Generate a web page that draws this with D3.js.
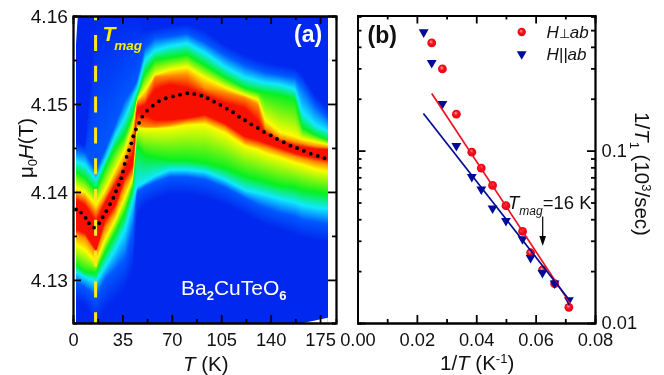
<!DOCTYPE html>
<head>
  <meta charset="utf-8">
  <script src="https://d3js.org/d3.v7.min.js"></script>
  <style>
    body { margin: 0; background: #fff; }
    canvas, svg { position: absolute; left: 0; top: 0; }
    text { font-family: "Liberation Sans", Arial, sans-serif; fill: #111; }
    .axis path, .axis line { stroke: #000; stroke-width: 1.8px; }
    .axis text { font-size: 18.3px; font-family: "Liberation Sans", Arial, sans-serif; fill: #111; }
    .axis-label { font-size: 20.5px; }
    .sub { font-size: 13px; }
  </style>
</head>
<body>
  <svg id="chart" width="664" height="375"></svg>
  <script>
    // (a) colour map: field (T) where each pure colour sits, at each temperature
    var mapT = [0, 8.5, 16.3, 22.7, 29.8, 36.8, 42.5, 45.3, 51, 58.1, 68.7, 80.8, 93.5, 107.7, 121.9, 131.1, 136, 146.7, 157.3, 162.3, 171.5, 183.5];

    var upperFaint = [4.1459, 4.1453, 4.1600, 4.1600, 4.1600, 4.1600, 4.1600, 4.1600, 4.1584, 4.1586, 4.1589, 4.1591, 4.1584, 4.1567, 4.1556, 4.1550, 4.1548, 4.1544, 4.1541, 4.1533, 4.1510, 4.1491];
    var lowerFaint = [4.1277, 4.1272, 4.1252, 4.1266, 4.1277, 4.1289, 4.1311, 4.1374, 4.1385, 4.1391, 4.1397, 4.1397, 4.1393, 4.1385, 4.1374, 4.1366, 4.1362, 4.1357, 4.1351, 4.1348, 4.1345, 4.1342];
    var upperLight = [4.1450, 4.1445, 4.1425, 4.1448, 4.1476, 4.1505, 4.1518, 4.1527, 4.1564, 4.1575, 4.1577, 4.1580, 4.1570, 4.1556, 4.1544, 4.1539, 4.1536, 4.1533, 4.1530, 4.1522, 4.1499, 4.1480];
    var lowerLight = [4.1298, 4.1292, 4.1281, 4.1300, 4.1311, 4.1323, 4.1357, 4.1400, 4.1406, 4.1411, 4.1417, 4.1417, 4.1414, 4.1405, 4.1393, 4.1385, 4.1382, 4.1376, 4.1372, 4.1368, 4.1366, 4.1362];
    var upperCyan = [4.1436, 4.1431, 4.1414, 4.1436, 4.1463, 4.1484, 4.1508, 4.1516, 4.1550, 4.1561, 4.1566, 4.1569, 4.1558, 4.1542, 4.1530, 4.1526, 4.1524, 4.1522, 4.1517, 4.1491, 4.1476, 4.1467];
    var lowerCyan = [4.1311, 4.1303, 4.1298, 4.1315, 4.1334, 4.1357, 4.1391, 4.1406, 4.1411, 4.1418, 4.1425, 4.1425, 4.1423, 4.1414, 4.1402, 4.1399, 4.1397, 4.1392, 4.1388, 4.1385, 4.1382, 4.1380];
    var upperGreen = [4.1425, 4.1416, 4.1402, 4.1427, 4.1450, 4.1465, 4.1488, 4.1508, 4.1535, 4.1550, 4.1553, 4.1556, 4.1544, 4.1530, 4.1518, 4.1514, 4.1513, 4.1510, 4.1505, 4.1473, 4.1465, 4.1457];
    var lowerGreen = [4.1319, 4.1309, 4.1308, 4.1331, 4.1353, 4.1376, 4.1406, 4.1453, 4.1442, 4.1439, 4.1436, 4.1436, 4.1433, 4.1427, 4.1418, 4.1414, 4.1412, 4.1407, 4.1405, 4.1402, 4.1400, 4.1397];
    var upperYellow = [4.1406, 4.1400, 4.1385, 4.1402, 4.1425, 4.1448, 4.1476, 4.1505, 4.1516, 4.1533, 4.1539, 4.1542, 4.1530, 4.1519, 4.1510, 4.1505, 4.1482, 4.1468, 4.1463, 4.1460, 4.1457, 4.1453];
    var lowerYellow = [4.1342, 4.1334, 4.1320, 4.1345, 4.1368, 4.1394, 4.1417, 4.1473, 4.1472, 4.1472, 4.1473, 4.1476, 4.1477, 4.1467, 4.1452, 4.1448, 4.1444, 4.1439, 4.1433, 4.1431, 4.1426, 4.1422];
    var upperOrange = [4.1399, 4.1393, 4.1377, 4.1394, 4.1416, 4.1436, 4.1463, 4.1502, 4.1507, 4.1531, 4.1532, 4.1533, 4.1518, 4.1513, 4.1507, 4.1499, 4.1473, 4.1461, 4.1457, 4.1455, 4.1452, 4.1450];
    var lowerOrange = [4.1353, 4.1348, 4.1330, 4.1359, 4.1377, 4.1408, 4.1423, 4.1476, 4.1474, 4.1474, 4.1476, 4.1480, 4.1482, 4.1473, 4.1457, 4.1453, 4.1451, 4.1445, 4.1440, 4.1438, 4.1434, 4.1431];
    var upperRed = [4.1393, 4.1385, 4.1366, 4.1388, 4.1408, 4.1427, 4.1442, 4.1495, 4.1499, 4.1516, 4.1522, 4.1518, 4.1510, 4.1501, 4.1495, 4.1480, 4.1467, 4.1458, 4.1452, 4.1451, 4.1449, 4.1448];
    var lowerRed = [4.1359, 4.1353, 4.1334, 4.1368, 4.1385, 4.1416, 4.1431, 4.1491, 4.1488, 4.1482, 4.1482, 4.1484, 4.1488, 4.1478, 4.1463, 4.1459, 4.1456, 4.1450, 4.1444, 4.1442, 4.1439, 4.1436];

    // (a) peak position, black dots
    var peakT = [2.1, 5.7, 9.0, 11.3, 14.9, 18.6, 21.0, 23.6, 26.2, 28.6, 30.5, 32.4, 34.2, 35.4, 36.6, 38.0, 39.7, 41.3, 42.7, 44.6, 46.8, 49.1, 52.4, 56.5, 60.9, 65.7, 70.9, 75.8, 81.0, 85.9, 90.9, 95.4, 99.9, 104.4, 108.9, 113.4, 117.6, 121.9, 126.3, 130.9, 135.3, 140.1, 144.5, 149.3, 154.0, 158.7, 163.5, 168.4, 173.4, 178.1];
    var peakH = [4.1380, 4.13765, 4.13705, 4.13644, 4.13594, 4.13644, 4.13712, 4.13781, 4.1386, 4.13932, 4.14008, 4.14083, 4.14156, 4.14231, 4.14318, 4.14398, 4.14474, 4.14553, 4.14633, 4.14712, 4.14784, 4.14856, 4.14924, 4.14981, 4.15031, 4.15065, 4.15087, 4.15106, 4.15122, 4.15114, 4.15094, 4.15065, 4.15026, 4.14989, 4.14947, 4.14906, 4.14856, 4.14815, 4.14769, 4.14727, 4.14682, 4.14644, 4.14602, 4.14565, 4.14526, 4.14497, 4.14466, 4.14435, 4.14409, 4.14383];

    var tMag = 16;
    var tTicks = [0, 35, 70, 105, 140, 175];
    var tMinor = [17.5, 52.5, 87.5, 122.5, 157.5];
    var hTicks = [4.13, 4.14, 4.15, 4.16];
    var hMinor = [4.135, 4.145, 4.155];

    // (b) relaxation rate
    var perpX = [0.0250, 0.0286, 0.0333, 0.0385, 0.0417, 0.0455, 0.0500, 0.0556, 0.0583, 0.0623, 0.0664, 0.0712];
    var perpY = [0.4217, 0.298, 0.1628, 0.098, 0.0792, 0.0628, 0.0479, 0.034, 0.02556, 0.0203, 0.0169, 0.01233];
    var paraX = [0.0223, 0.0250, 0.0286, 0.0333, 0.0385, 0.0417, 0.0455, 0.0500, 0.0556, 0.0583, 0.0623, 0.0664, 0.0712];
    var paraY = [0.4864, 0.3228, 0.1868, 0.1066, 0.0705, 0.0596, 0.0462, 0.0392, 0.0307, 0.0239, 0.01957, 0.017, 0.0136];
    var perpFitX = [0.025, 0.0716];
    var perpFitY = [0.2146, 0.013];
    var paraFitX = [0.0222, 0.0718];
    var paraFitY = [0.1643, 0.0133];
    var rateTicks = [0.01, 0.1];
    var rateMinor = [0.02, 0.03, 0.04, 0.05, 0.06, 0.07, 0.08, 0.09, 0.2, 0.3, 0.4, 0.5, 0.6];
    var invTTicks = [0, 0.02, 0.04, 0.06, 0.08];
    var invTMinor = [0.01, 0.03, 0.05, 0.07];

    var svg = d3.select("#chart");

    var leftBox = { x0: 73, x1: 336, y0: 16, y1: 323 },
      rightBox = { x0: 357.5, x1: 595, y0: 15.5, y1: 323 };

    var xT = d3.scaleLinear().domain([0, 186.3]).range([leftBox.x0, leftBox.x1]);
    var yH = d3.scaleLinear().domain([4.1251, 4.16]).range([leftBox.y1, leftBox.y0]);
    var xR = d3.scaleLinear().domain([0, 0.08]).range([rightBox.x0, rightBox.x1]);
    var yR = d3.scaleLog().domain([0.01, 0.608]).range([rightBox.y1, rightBox.y0]);

    var defs = svg.append("defs");
    var ball = defs.append("radialGradient").attr("id", "ball")
      .attr("cx", "50%").attr("cy", "50%").attr("r", "55%").attr("fx", "40%").attr("fy", "35%");
    ball.append("stop").attr("offset", "0%").attr("stop-color", "#ffa0a0");
    ball.append("stop").attr("offset", "45%").attr("stop-color", "#f5101c");
    ball.append("stop").attr("offset", "100%").attr("stop-color", "#e80010");

    // colour map, painted on a canvas under the svg
    var jet = d3.scaleLinear()
      .domain([0, 1, 2, 3, 4, 5, 6])
      .range(["#0028ee", "#0058ff", "#10e8ff", "#08f020", "#fcfc00", "#ff8c00", "#f81000"])
      .clamp(true);

    var contours = [lowerFaint, lowerLight, lowerCyan, lowerGreen, lowerYellow, lowerOrange, lowerRed,
      upperRed, upperOrange, upperYellow, upperGreen, upperCyan, upperLight, upperFaint]
      .map(function (a) { return d3.scaleLinear().domain(mapT).range(a); });
    var contourLevel = [0, 1, 2, 3, 4, 5, 6, 6, 5, 4, 3, 2, 1, 0];

    var canvas = d3.select("body").insert("canvas", "#chart")
      .attr("width", 664).attr("height", 375).node();
    var ctx = canvas.getContext("2d");
    var img = ctx.createImageData(664, 375);
    var px0 = Math.round(xT(2)), px1 = Math.round(xT(180.5));
    for (var px = px0; px < px1; px++) {
      var t = xT.invert(px + 0.5), prev = -Infinity;
      var stops = contours.map(function (c) { prev = Math.max(prev, c(t)); return prev; });
      var field = d3.scaleLinear().domain(stops).range(contourLevel).clamp(true);
      for (var py = leftBox.y0; py < leftBox.y1; py++) {
        var c = d3.rgb(jet(field(yH.invert(py + 0.5))));
        var k = (py * 664 + px) * 4;
        img.data[k] = c.r; img.data[k + 1] = c.g; img.data[k + 2] = c.b; img.data[k + 3] = 255;
      }
    }
    ctx.putImageData(img, 0, 0);

    // white corners the map does not cover
    var cornerLine = d3.line().x(function (d) { return xT(d[0]); }).y(function (d) { return yH(d[1]); });
    svg.append("path").attr("fill", "#fff")
      .attr("d", cornerLine([[2, 4.16], [3.4, 4.16], [2, 4.1565]]) + "Z");
    svg.append("path").attr("fill", "#fff")
      .attr("d", cornerLine([[163, 4.1251], [180.5, 4.1257], [180.5, 4.1251]]) + "Z");

    // T_mag dashed line and peak dots
    svg.append("line")
      .attr("x1", xT(tMag)).attr("x2", xT(tMag))
      .attr("y1", leftBox.y0).attr("y2", leftBox.y1)
      .attr("stroke", "#ffe818").attr("stroke-width", 3)
      .attr("stroke-dasharray", "16 14.8").attr("stroke-dashoffset", 11.8);

    svg.append("g").selectAll("circle").data(peakT).join("circle")
      .attr("cx", function (d) { return xT(d); })
      .attr("cy", function (d, i) { return yH(peakH[i]); })
      .attr("r", 1.9).attr("fill", "#000");

    // ticks point inward on all four sides, labels only where fmt is given
    function sideAxis(axisFn, scale, pos, major, minor, fmt, pad) {
      svg.append("g").attr("class", "axis").attr("transform", pos)
        .call(axisFn(scale).tickValues(minor).tickSize(-4).tickFormat(""));
      return svg.append("g").attr("class", "axis").attr("transform", pos)
        .call(axisFn(scale).tickValues(major).tickSize(-8).tickSizeOuter(0).tickPadding(pad || 3).tickFormat(fmt || ""));
    }

    sideAxis(d3.axisBottom, xT, "translate(0," + leftBox.y1 + ")", tTicks, tMinor, d3.format("d"), 10);
    sideAxis(d3.axisTop, xT, "translate(0," + leftBox.y0 + ")", tTicks, tMinor);
    sideAxis(d3.axisLeft, yH, "translate(" + leftBox.x0 + ",0)", hTicks, hMinor, d3.format(".2f"), 5)
      .selectAll("text").style("font-size", "19.2px");
    sideAxis(d3.axisRight, yH, "translate(" + leftBox.x1 + ",0)", hTicks, hMinor);

    sideAxis(d3.axisBottom, xR, "translate(0," + rightBox.y1 + ")", invTTicks, invTMinor, d3.format(".2f"), 10);
    sideAxis(d3.axisTop, xR, "translate(0," + rightBox.y0 + ")", invTTicks, invTMinor);
    sideAxis(d3.axisLeft, yR, "translate(" + rightBox.x0 + ",0)", rateTicks, rateMinor);
    sideAxis(d3.axisRight, yR, "translate(" + rightBox.x1 + ",0)", rateTicks, rateMinor, function (d) { return String(d); }, 6.5);

    // (b) points and fits
    svg.append("g").selectAll("circle").data(perpX).join("circle")
      .attr("cx", function (d) { return xR(d); })
      .attr("cy", function (d, i) { return yR(perpY[i]); })
      .attr("r", 4.4).attr("fill", "url(#ball)");

    var tri = d3.symbol().type(d3.symbolTriangle).size(42);
    svg.append("g").selectAll("path").data(paraX).join("path")
      .attr("d", tri)
      .attr("fill", "#000c96")
      .attr("transform", function (d, i) { return "translate(" + xR(d) + "," + yR(paraY[i]) + ") rotate(180)"; });

    var fitLine = d3.line().x(function (d) { return xR(d[0]); }).y(function (d) { return yR(d[1]); });
    svg.append("path").attr("fill", "none").attr("stroke", "#f01020").attr("stroke-width", 1.7)
      .attr("d", fitLine(d3.zip(perpFitX, perpFitY)));
    svg.append("path").attr("fill", "none").attr("stroke", "#000c96").attr("stroke-width", 1.7)
      .attr("d", fitLine(d3.zip(paraFitX, paraFitY)));

    // legend
    svg.append("circle").attr("cx", 521.7).attr("cy", 32).attr("r", 4.2).attr("fill", "url(#ball)");
    svg.append("path").attr("d", tri).attr("fill", "#000c96").attr("transform", "translate(521.7,54) rotate(180)");
    var lg1 = svg.append("text").attr("x", 546.5).attr("y", 38).style("font-size", "17px").style("font-style", "italic");
    lg1.append("tspan").text("H");
    lg1.append("tspan").style("font-size", "12.5px").style("font-style", "normal").text("⊥");
    lg1.append("tspan").text("ab");
    svg.append("text").attr("x", 546.5).attr("y", 60).style("font-size", "17px").style("font-style", "italic").text("H||ab");

    // T_mag arrow
    var am = svg.append("text").attr("x", 508).attr("y", 208.5).style("font-size", "18.5px");
    am.append("tspan").style("font-style", "italic").text("T");
    am.append("tspan").attr("dy", 6.5).style("font-style", "italic").style("font-size", "12px").text("mag");
    am.append("tspan").attr("dy", -6.5).text("=16 K");
    svg.append("line").attr("x1", 542.7).attr("x2", 542.7).attr("y1", 216.5).attr("y2", 240)
      .attr("stroke", "#000").attr("stroke-width", 1.2);
    svg.append("path").attr("d", d3.line()([[539.4, 236], [546, 236], [542.7, 246]]) + "Z").attr("fill", "#000");

    // panel marks
    svg.append("text").attr("x", 294).attr("y", 42).style("font-size", "23px").style("font-weight", "bold").style("fill", "#fff").text("(a)");
    svg.append("text").attr("x", 367.5).attr("y", 43).style("font-size", "23px").style("font-weight", "bold").text("(b)");

    var tm = svg.append("text").attr("x", 102.5).attr("y", 41).style("font-weight", "bold").style("font-style", "italic");
    tm.append("tspan").style("font-size", "21px").style("fill", "#ffee00").text("T");
    tm.append("tspan").attr("dy", 9).attr("dx", -1).style("font-size", "13.5px").style("fill", "#ffee00").text("mag");

    var ba = svg.append("text").attr("x", 181).attr("y", 295).style("font-size", "21px");
    ba.append("tspan").style("fill", "#fff").text("Ba");
    ba.append("tspan").attr("dy", 5).style("font-size", "13px").style("font-weight", "bold").style("fill", "#fff").text("2");
    ba.append("tspan").attr("dy", -5).style("fill", "#fff").text("CuTeO");
    ba.append("tspan").attr("dy", 5).style("font-size", "13px").style("font-weight", "bold").style("fill", "#fff").text("6");

    // axis titles
    var yl = svg.append("text").attr("class", "axis-label")
      .attr("transform", "translate(33,178) rotate(-90)");
    yl.append("tspan").text("μ");
    yl.append("tspan").attr("dy", 4).attr("class", "sub").text("0");
    yl.append("tspan").attr("dy", -4).style("font-style", "italic").text("H");
    yl.append("tspan").text("(T)");

    var xl = svg.append("text").attr("class", "axis-label").attr("x", 183).attr("y", 371);
    xl.append("tspan").style("font-style", "italic").text("T");
    xl.append("tspan").text(" (K)");

    var xr = svg.append("text").attr("class", "axis-label").attr("x", 440).attr("y", 370);
    xr.append("tspan").text("1/");
    xr.append("tspan").style("font-style", "italic").text("T");
    xr.append("tspan").text(" (K");
    xr.append("tspan").attr("dy", -7).attr("class", "sub").text("-1");
    xr.append("tspan").attr("dy", 7).text(")");

    var yr = svg.append("text").attr("class", "axis-label")
      .attr("transform", "translate(635,112) rotate(90)");
    yr.append("tspan").text("1/");
    yr.append("tspan").style("font-style", "italic").text("T");
    yr.append("tspan").attr("dy", 5).attr("class", "sub").text("1");
    yr.append("tspan").attr("dy", -5).text(" (10");
    yr.append("tspan").attr("dy", -7).attr("class", "sub").text("3");
    yr.append("tspan").attr("dy", 7).text("/sec)");
  </script>
</body>
